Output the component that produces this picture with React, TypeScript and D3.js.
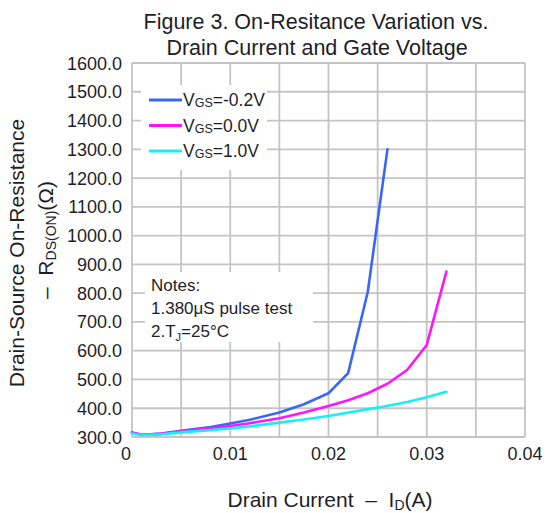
import React from 'react';
import * as d3 from 'd3';

const xGridValues = [0, 0.005, 0.01, 0.015, 0.02, 0.025, 0.03, 0.035, 0.04];
const xTickValues = [0, 0.01, 0.02, 0.03, 0.04];
const xTickLabels = ['0', '0.01', '0.02', '0.03', '0.04'];
const yTickValues = [300, 400, 500, 600, 700, 800, 900, 1000, 1100, 1200, 1300, 1400, 1500, 1600];

const blueX = [0, 0.001, 0.003, 0.005, 0.008, 0.01, 0.012, 0.015, 0.0175, 0.02, 0.022, 0.024, 0.026];
const blueY = [316, 308, 312, 322, 335, 347, 360, 385, 414, 452, 522, 805, 1300];
const magentaX = [0, 0.001, 0.003, 0.005, 0.008, 0.01, 0.012, 0.015, 0.0175, 0.02, 0.022, 0.024, 0.026, 0.028, 0.03, 0.032];
const magentaY = [315, 308, 311, 320, 330, 338, 348, 365, 385, 408, 428, 452, 485, 533, 620, 875];
const cyanX = [0, 0.001, 0.003, 0.005, 0.008, 0.01, 0.012, 0.015, 0.0175, 0.02, 0.025, 0.028, 0.03, 0.032];
const cyanY = [312, 307, 309, 316, 324, 330, 337, 350, 361, 373, 402, 422, 438, 457];

const seriesNames = ['-0.2V', '0.0V', '1.0V'];
const seriesColors = ['#3a66f5', '#ff14ff', '#14f0f5'];

const W = 546;
const H = 513;
const FONT = '"Liberation Sans", Arial, sans-serif';
const TXT = '#1e1e28';

export default function App() {
  const x = d3.scaleLinear().domain([0, 0.04]).range([132, 525]);
  const y = d3.scaleLinear().domain([300, 1600]).range([437, 63]);
  const line = d3
    .line<[number, number]>()
    .x((d) => x(d[0]))
    .y((d) => y(d[1]));
  const series = [
    d3.zip(blueX, blueY) as [number, number][],
    d3.zip(magentaX, magentaY) as [number, number][],
    d3.zip(cyanX, cyanY) as [number, number][],
  ];
  const grid = '#c4c4c4';

  return (
    <svg
      width={W}
      height={H}
      style={{ position: 'absolute', left: 0, top: 0, background: '#fff' }}
      fontFamily={FONT}
    >
      <rect x={0} y={0} width={W} height={H} fill="#fff" />
      {/* title */}
      <text x={316} y={29} textAnchor="middle" fontSize={21.5} fill={TXT}>
        Figure 3. On-Resitance Variation vs.
      </text>
      <text x={317} y={55} textAnchor="middle" fontSize={21.5} fill={TXT}>
        Drain Current and Gate Voltage
      </text>

      {/* grid */}
      {yTickValues.map((v) => (
        <line key={'h' + v} x1={x(0)} x2={x(0.04)} y1={y(v)} y2={y(v)} stroke={grid} strokeWidth={1.8} />
      ))}
      {xGridValues.map((v) => (
        <line key={'v' + v} x1={x(v)} x2={x(v)} y1={y(300)} y2={y(1600)} stroke={grid} strokeWidth={1.8} />
      ))}

      {/* legend / notes backgrounds */}
      <rect x={141} y={85} width={126} height={85} fill="#fff" />
      <rect x={145} y={272} width={168} height={70} fill="#fff" />

      {/* y tick labels */}
      {yTickValues.map((v) => (
        <text key={'yl' + v} x={122} y={y(v) + 6.5} textAnchor="end" fontSize={18} fill={TXT}>
          {v.toFixed(1)}
        </text>
      ))}
      {/* x tick labels */}
      {xTickValues.map((v, i) => (
        <text
          key={'xl' + v}
          x={x(v) + (i === 0 ? -6 : 0)}
          y={460}
          textAnchor="middle"
          fontSize={18}
          fill={TXT}
        >
          {xTickLabels[i]}
        </text>
      ))}

      {/* series */}
      {series.map((s, i) => (
        <path
          key={'s' + i}
          d={line(s) || ''}
          fill="none"
          stroke={seriesColors[i]}
          strokeWidth={2.6}
          strokeLinejoin="round"
          strokeLinecap="round"
        />
      ))}

      {/* legend */}
      {seriesNames.map((n, i) => {
        const ly = 100 + i * 25.5;
        return (
          <g key={'lg' + i}>
            <line x1={149} x2={182} y1={ly} y2={ly} stroke={seriesColors[i]} strokeWidth={3} />
            <text x={183} y={ly + 6} fontSize={17.5} fill={TXT}>
              V
              <tspan fontSize={12.5} dy={1}>
                GS
              </tspan>
              <tspan dy={-1}>={n}</tspan>
            </text>
          </g>
        );
      })}

      {/* notes */}
      <text x={151} y={291} fontSize={17} fill={TXT}>
        Notes:
      </text>
      <text x={151} y={314} fontSize={17} fill={TXT}>
        1.380μS pulse test
      </text>
      <text x={151} y={337} fontSize={17} fill={TXT}>
        2.T
        <tspan fontSize={11} dy={4}>
          J
        </tspan>
        <tspan dy={-4}>=25°C</tspan>
      </text>

      {/* x axis title */}
      <text x={330} y={507} textAnchor="middle" fontSize={21} fill={TXT} xmlSpace="preserve">
        {'Drain Current  –  I'}
        <tspan fontSize={14} dy={3}>
          D
        </tspan>
        <tspan dy={-3}>(A)</tspan>
      </text>

      {/* y axis title */}
      <text transform="translate(24,253) rotate(-90)" textAnchor="middle" fontSize={21} fill={TXT}>
        Drain-Source On-Resistance
      </text>
      <text transform="translate(53,240) rotate(-90)" textAnchor="middle" fontSize={21} fill={TXT} xmlSpace="preserve">
        {'–  R'}
        <tspan fontSize={14} dy={3}>
          DS(ON)
        </tspan>
        <tspan dy={-3}>(Ω)</tspan>
      </text>
    </svg>
  );
}
